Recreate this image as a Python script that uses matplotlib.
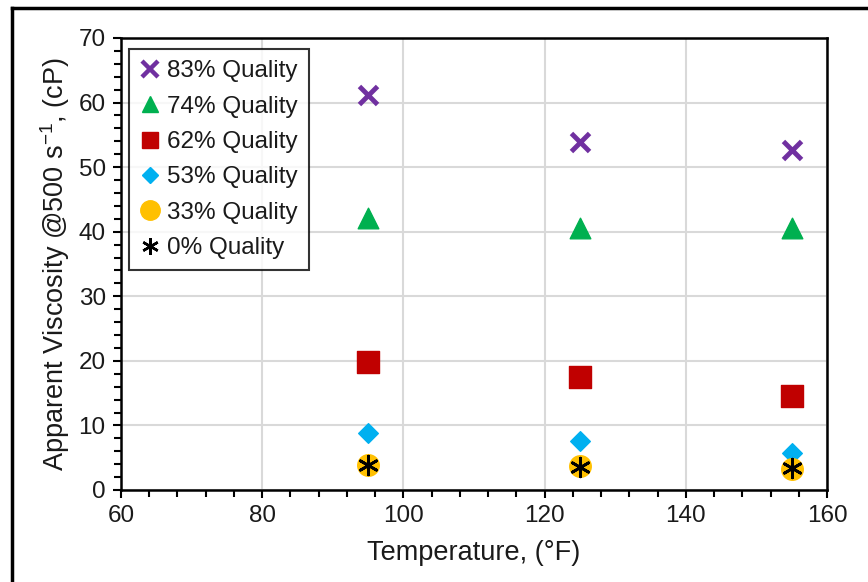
import matplotlib
matplotlib.use("Agg")
import matplotlib.pyplot as plt
from matplotlib.ticker import MultipleLocator
from matplotlib.lines import Line2D

plt.rcParams['font.family'] = ['Liberation Sans', 'DejaVu Sans']
plt.rcParams['mathtext.default'] = 'regular'

temps = [95, 125, 155]
q83 = [61.2, 53.9, 52.6]
q74 = [42.2, 40.6, 40.6]
q62 = [19.8, 17.5, 14.6]
q53 = [8.8, 7.6, 5.7]
q33 = [3.9, 3.7, 3.3]
q0 = [3.9, 3.6, 3.4]

fig = plt.figure(figsize=(8.68, 5.82), dpi=100)
ax = fig.add_axes([121/868, 1 - 490/582, (827-121)/868, (490-38)/582])

ax.scatter(temps, q83, marker='x', s=170, color='#7030A0', linewidths=3.5, label='83% Quality', zorder=3)
ax.scatter(temps, q74, marker='^', s=220, color='#00B050', label='74% Quality', zorder=3)
ax.scatter(temps, q62, marker='s', s=230, color='#C00000', label='62% Quality', zorder=3)
ax.scatter(temps, q53, marker='D', s=100, color='#00B0F0', label='53% Quality', zorder=3)
ax.scatter(temps, q33, marker='o', s=240, color='#FFC000', label='33% Quality', zorder=3)
ax.scatter(temps, q0, marker=(6, 2, 0), s=180, color='black', linewidths=2, label='0% Quality', zorder=4)

ax.set_xlim(60, 160)
ax.set_ylim(0, 70)
ax.xaxis.set_major_locator(MultipleLocator(20))
ax.xaxis.set_minor_locator(MultipleLocator(4))
ax.yaxis.set_major_locator(MultipleLocator(10))
ax.yaxis.set_minor_locator(MultipleLocator(2))
ax.grid(True, which='major', color='#D9D9D9', linewidth=1.5, zorder=0)
ax.set_axisbelow(True)
for s in ax.spines.values():
    s.set_linewidth(1.8)
ax.tick_params(which='major', length=6, width=1.5, labelsize=17.5, pad=5, labelcolor='#1a1a1a')
ax.tick_params(which='minor', length=5, width=1.5)

ax.set_xlabel('Temperature, (°F)', fontsize=19.5, labelpad=9, color='#1a1a1a')
ax.set_ylabel('Apparent Viscosity @500 s$^{-1}$, (cP)', fontsize=19.5, labelpad=5, color='#1a1a1a')

handles = [
    Line2D([], [], marker='x', linestyle='', color='#7030A0', markersize=12, markeredgewidth=3.2),
    Line2D([], [], marker='^', linestyle='', color='#00B050', markersize=11),
    Line2D([], [], marker='s', linestyle='', color='#C00000', markersize=12),
    Line2D([], [], marker='D', linestyle='', color='#00B0F0', markersize=8),
    Line2D([], [], marker='o', linestyle='', color='#FFC000', markersize=14),
    Line2D([], [], marker=(6, 2, 0), linestyle='', color='black', markersize=12, markeredgewidth=1.8),
]
labels = ['83% Quality', '74% Quality', '62% Quality', '53% Quality', '33% Quality', '0% Quality']
leg = ax.legend(handles, labels, loc='upper left', bbox_to_anchor=(0.012, 0.975), fontsize=17.5,
                frameon=True, fancybox=False, edgecolor='black', handlelength=0.8,
                handletextpad=0.3, borderpad=0.45, labelspacing=0.55, borderaxespad=0)
leg.get_frame().set_linewidth(1.5)
for t in leg.get_texts():
    t.set_color('#1a1a1a')

# outer frame lines visible at top and left
fig.add_artist(Line2D([12/868, 12/868], [0, 1 - 8/582], color='black', linewidth=2.5, transform=fig.transFigure))
fig.add_artist(Line2D([12/868, 1], [1 - 8/582, 1 - 8/582], color='black', linewidth=2.5, transform=fig.transFigure))

fig.savefig('out.png', dpi=100)
